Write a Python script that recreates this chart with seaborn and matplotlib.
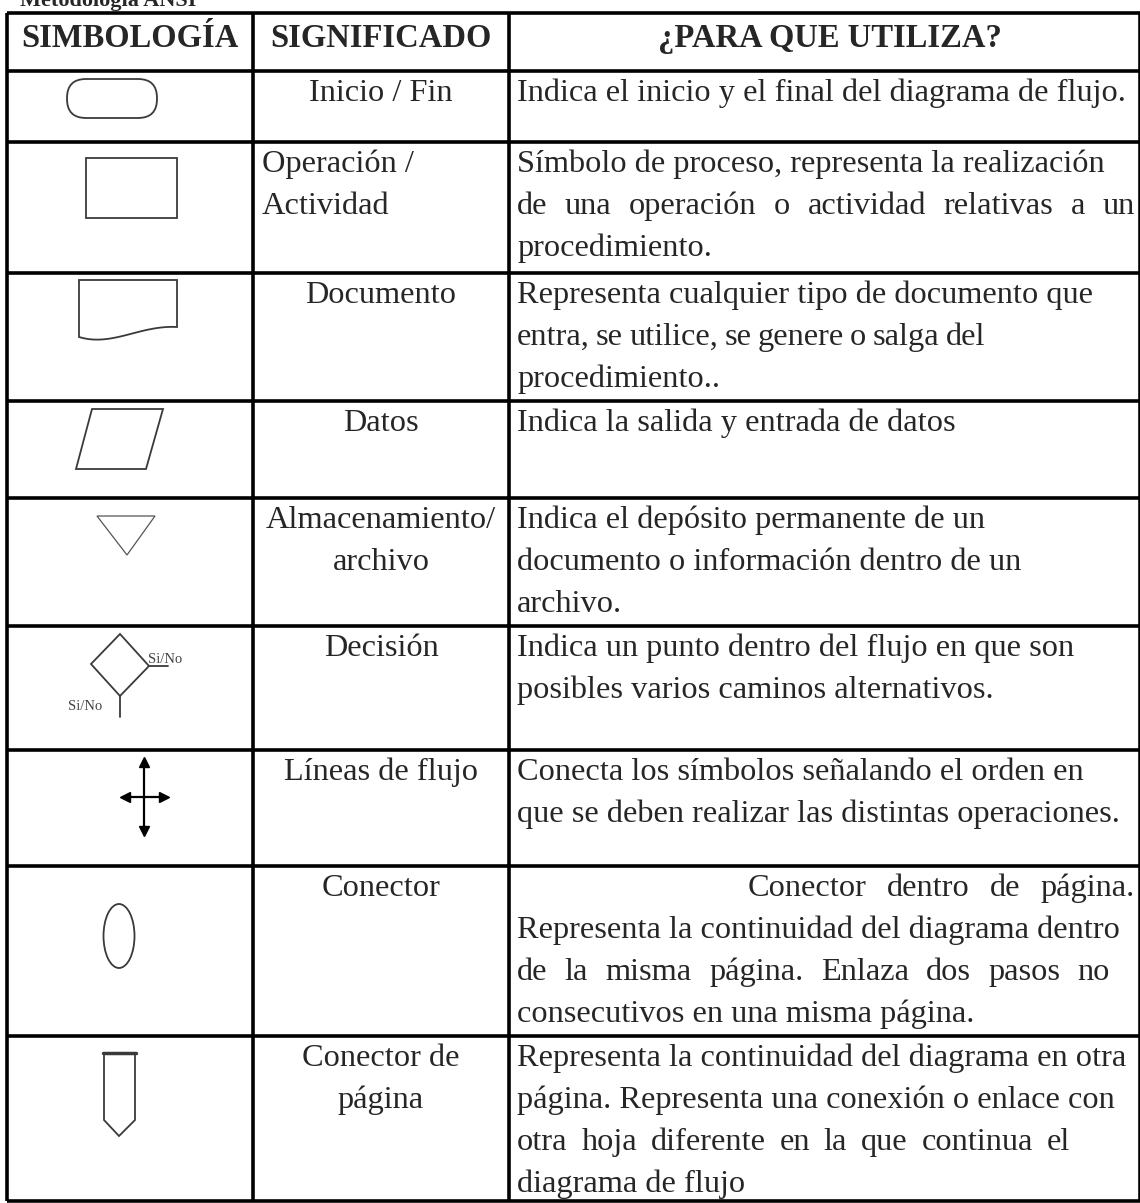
import numpy as np
import matplotlib
matplotlib.use("Agg")
import matplotlib.pyplot as plt
from matplotlib.patches import FancyBboxPatch, Rectangle, Polygon, Ellipse
import seaborn as sns

# Contenido de la tabla
titulo = "Metodología ANSI"
encabezados = ["SIMBOLOGÍA", "SIGNIFICADO", "¿PARA QUE UTILIZA?"]
simbolos = ["inicio_fin", "operacion", "documento", "datos", "almacenamiento",
            "decision", "flujo", "conector", "conector_pagina"]
significados = [["Inicio / Fin"], ["Operación /", "Actividad"], ["Documento"], ["Datos"],
                ["Almacenamiento/", "archivo"], ["Decisión"], ["Líneas de flujo"],
                ["Conector"], ["Conector de", "página"]]
usos = [
    ["Indica el inicio y el final del diagrama de flujo."],
    ["Símbolo de proceso, representa la realización",
     "de una operación o actividad relativas a un",
     "procedimiento."],
    ["Representa cualquier tipo de documento que",
     "entra, se utilice, se genere o salga del",
     "procedimiento.."],
    ["Indica la salida y entrada de datos"],
    ["Indica el depósito permanente de un",
     "documento o información dentro de un",
     "archivo."],
    ["Indica un punto dentro del flujo en que son",
     "posibles varios caminos alternativos."],
    ["Conecta los símbolos señalando el orden en",
     "que se deben realizar las distintas operaciones."],
    ["Conector dentro de página.",
     "Representa la continuidad del diagrama dentro",
     "de la misma página. Enlaza dos pasos no",
     "consecutivos en una misma página."],
    ["Representa la continuidad del diagrama en otra",
     "página. Representa una conexión o enlace con",
     "otra hoja diferente en la que continua el",
     "diagrama de flujo"],
]
etiqueta_decision = "Si/No"

# Geometría (en píxeles)
col_x = [7, 253, 509, 1140]
row_y = [13, 71, 142, 273, 401, 498, 626, 750, 866, 1036, 1201]
justificado = {(1, 1): (517, 1135), (2, 1): (517, 985), (7, 0): (748, 1135),
               (7, 2): (517, 1110), (8, 2): (517, 1070)}
izquierda_col2 = {1}

sns.set_theme(style="white")
plt.rcParams["font.family"] = ["Liberation Serif", "DejaVu Serif"]

fig = plt.figure(figsize=(11.4, 12.03), dpi=100)
ax = fig.add_axes([0, 0, 1, 1])
ax.set_xlim(0, 1140)
ax.set_ylim(1203, 0)
ax.axis("off")
renderer = fig.canvas.get_renderer()

FS = 23.3
FS_H = 23.5
LINE = 42
BASE = 30

# Título (cortado arriba)
ax.text(20, 6, titulo, fontsize=16, fontweight="bold", va="baseline", ha="left")

# Líneas de la tabla
ax.hlines(row_y, col_x[0], col_x[-1], color="black", lw=2.6)
ax.vlines(col_x, row_y[0], row_y[-1], color="black", lw=2.6)

# Encabezados
for i, h in enumerate(encabezados):
    cx = (col_x[i] + col_x[i + 1]) / 2
    if i == 2:
        cx = 830
    ax.text(cx, 47, h, fontsize=FS_H, fontweight="bold", ha="center", va="baseline")


def linea(x0, y, s, x1=None):
    if x1 is None:
        ax.text(x0, y, s, fontsize=FS, ha="left", va="baseline")
        return
    palabras = s.split(" ")
    ts = [ax.text(0, y, p, fontsize=FS, ha="left", va="baseline") for p in palabras]
    anchos = [t.get_window_extent(renderer=renderer).width for t in ts]
    gap = (x1 - x0 - sum(anchos)) / (len(palabras) - 1)
    x = x0
    for t, w in zip(ts, anchos):
        t.set_x(x)
        x += w + gap


# Columna 2 y 3
for r in range(len(simbolos)):
    top = row_y[r + 1]
    for k, s in enumerate(significados[r]):
        y = top + BASE + k * LINE
        if r in izquierda_col2:
            ax.text(262, y, s, fontsize=FS, ha="left", va="baseline")
        else:
            ax.text(381, y, s, fontsize=FS, ha="center", va="baseline")
    for k, s in enumerate(usos[r]):
        y = top + BASE + k * LINE
        if (r, k) in justificado:
            x0, x1 = justificado[(r, k)]
            linea(x0, y, s, x1)
        else:
            linea(517, y, s)

# Símbolos
sc = "#3a3a3a"
lw = 1.3
ax.add_patch(FancyBboxPatch((67, 79), 90, 39, boxstyle="round,pad=0,rounding_size=19",
                            fill=False, ec=sc, lw=lw))
ax.add_patch(Rectangle((86, 158), 91, 60, fill=False, ec=sc, lw=lw))
t = np.linspace(0, 1, 60)
p0, p1, p2, p3 = np.array([177, 327]), np.array([140, 325]), np.array([112, 347]), np.array([79, 337])
curva = ((1 - t) ** 3)[:, None] * p0 + (3 * (1 - t) ** 2 * t)[:, None] * p1 + \
        (3 * (1 - t) * t ** 2)[:, None] * p2 + (t ** 3)[:, None] * p3
doc = np.vstack([[79, 280], [177, 280], curva])
ax.add_patch(Polygon(doc, closed=True, fill=False, ec=sc, lw=lw))
ax.add_patch(Polygon([[92, 409], [163, 409], [146, 469], [76, 469]], closed=True,
                     fill=False, ec=sc, lw=lw))
ax.add_patch(Polygon([[97, 516], [155, 516], [127, 555]], closed=True,
                     fill=False, ec="#555555", lw=0.9))
ax.add_patch(Polygon([[120, 634], [149, 666], [120, 696], [91, 664]], closed=True,
                     fill=False, ec=sc, lw=lw))
ax.plot([120, 120], [696, 717], color=sc, lw=lw)
ax.plot([149, 168], [666, 666], color=sc, lw=lw)
ax.text(148, 663, etiqueta_decision, fontsize=10.5, color="#444444", ha="left", va="baseline")
ax.text(68, 710, etiqueta_decision, fontsize=10.5, color="#444444", ha="left", va="baseline")
ax.plot([144, 144], [760, 833], color="black", lw=1.6)
ax.plot([124, 165], [797, 797], color="black", lw=1.6)
ax.plot([144], [762], marker="^", ms=7, color="black")
ax.plot([144], [831], marker="v", ms=7, color="black")
ax.plot([125], [797], marker="<", ms=7, color="black")
ax.plot([164], [797], marker=">", ms=7, color="black")
ax.add_patch(Ellipse((119, 936), 31, 64, fill=False, ec=sc, lw=lw))
ax.add_patch(Polygon([[104, 1054], [135, 1054], [135, 1120], [119, 1136], [104, 1120]],
                     closed=True, fill=False, ec=sc, lw=lw))
ax.plot([103, 136], [1053, 1053], color=sc, lw=2.5)

fig.savefig("out.png", dpi=100)
